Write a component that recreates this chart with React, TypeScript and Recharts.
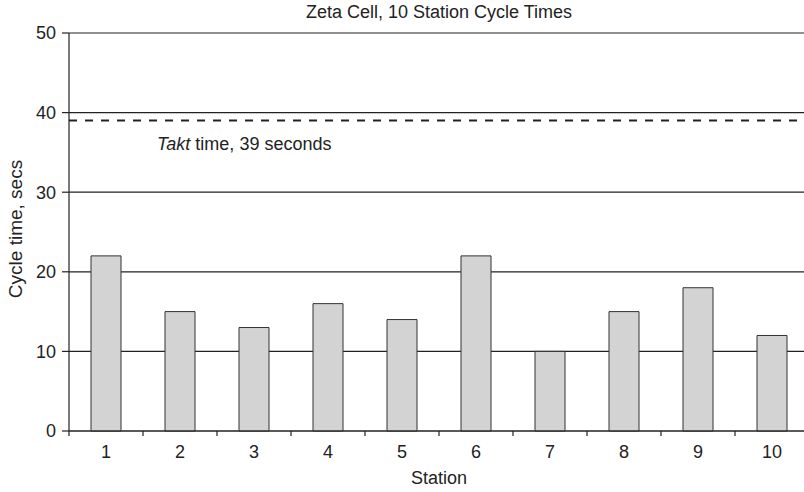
import React from 'react';
import { BarChart, Bar, XAxis, YAxis, CartesianGrid, ReferenceLine } from 'recharts';

const stations = ['1', '2', '3', '4', '5', '6', '7', '8', '9', '10'];
const cycleTimes = [22, 15, 13, 16, 14, 22, 10, 15, 18, 12];
const yTicks = [0, 10, 20, 30, 40, 50];
const taktTime = 39;

const data = stations.map((station, i) => ({ station, cycle: cycleTimes[i] }));

const FONT = '"Liberation Sans", Arial, Helvetica, sans-serif';
const INK = '#222';
const FS = 18;

// category label in the middle of the band, tick marks on the band edges
const StationTick = (props: any) => {
  const { x, y, payload, index, width, visibleTicksCount } = props;
  const band = width / (visibleTicksCount || stations.length);
  const axisY = y - 5;
  const last = index === stations.length - 1;
  return (
    <g>
      <line x1={x - band / 2} x2={x - band / 2} y1={axisY} y2={axisY + 5} stroke={INK} strokeWidth={1.2} />
      {last && <line x1={x + band / 2} x2={x + band / 2} y1={axisY} y2={axisY + 5} stroke={INK} strokeWidth={1.2} />}
      <text x={x} y={axisY + 27} textAnchor="middle" fontSize={FS} fill={INK} fontFamily={FONT}>
        {payload.value}
      </text>
    </g>
  );
};

const TaktLabel = (props: any) => {
  const { viewBox } = props;
  return (
    <text x={viewBox.x + 88} y={viewBox.y + 29} fontSize={FS} fill={INK} fontFamily={FONT}>
      <tspan fontStyle="italic">Takt</tspan>
      <tspan> time, {taktTime} seconds</tspan>
    </text>
  );
};

const YLabel = (props: any) => {
  const { viewBox } = props;
  const cx = viewBox.x + 15;
  const cy = viewBox.y + viewBox.height / 2 - 3;
  return (
    <text
      x={cx}
      y={cy}
      transform={`rotate(-90, ${cx}, ${cy})`}
      textAnchor="middle"
      dominantBaseline="central"
      fontSize={19}
      fill={INK}
      fontFamily={FONT}
    >
      Cycle time, secs
    </text>
  );
};

export default function App() {
  return (
    <div style={{ position: 'absolute', left: 0, top: 0, width: 804, height: 492, overflow: 'hidden', background: '#fff' }}>
      <div
        style={{
          position: 'absolute',
          left: 69,
          width: 740,
          top: 2,
          textAlign: 'center',
          fontFamily: FONT,
          fontSize: FS,
          color: INK,
        }}
      >
        Zeta Cell, 10 Station Cycle Times
      </div>
      <BarChart
        width={812}
        height={492}
        data={data}
        margin={{ top: 33, right: 3, bottom: 0, left: 0 }}
        barCategoryGap={22}
      >
        <CartesianGrid vertical={false} stroke={INK} strokeWidth={1.2} />
        <XAxis
          dataKey="station"
          height={61}
          tickLine={false}
          tickSize={5}
          tickMargin={0}
          axisLine={{ stroke: INK, strokeWidth: 1.2 }}
          tick={<StationTick />}
          interval={0}
          label={{ value: 'Station', position: 'insideBottom', offset: 8, fontSize: FS, fill: INK, fontFamily: FONT }}
        />
        <YAxis
          width={69}
          domain={[0, 50]}
          ticks={yTicks}
          tickSize={7}
          tickMargin={6}
          axisLine={{ stroke: INK, strokeWidth: 1.2 }}
          tickLine={{ stroke: INK, strokeWidth: 1.2 }}
          tick={{ fontSize: FS, fill: INK, fontFamily: FONT }}
          label={<YLabel />}
        />
        <ReferenceLine
          y={taktTime}
          stroke={INK}
          strokeWidth={2}
          strokeDasharray="8 8"
          label={<TaktLabel />}
        />
        <Bar dataKey="cycle" barSize={30} fill="#d3d3d3" stroke="#333" strokeWidth={1} isAnimationActive={false} />
      </BarChart>
    </div>
  );
}
